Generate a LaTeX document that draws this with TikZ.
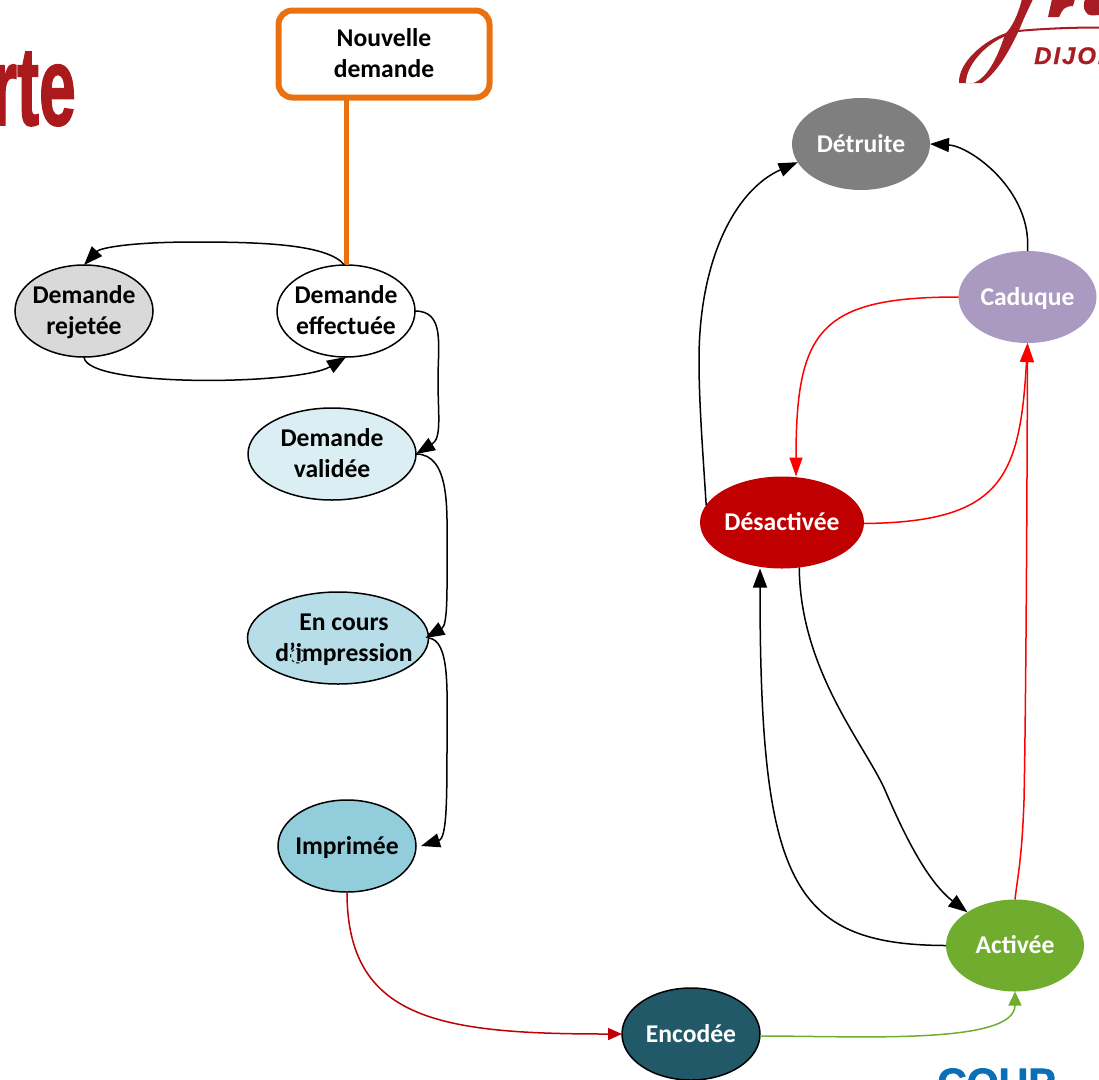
\documentclass[tikz,border=0pt]{standalone}
\usepackage{fontspec}
\setmainfont{Carlito}
\newfontfamily\helv{Liberation Sans}
\newfontfamily\helvheavy[FakeBold=1.6]{Liberation Sans Bold}
\newfontfamily\helvit[FakeBold=0.6,LetterSpace=8]{Liberation Sans Bold Italic}
\newfontfamily\dejavu{DejaVu Sans}
\usetikzlibrary{shapes.geometric,arrows.meta}
\definecolor{cOrange}{HTML}{E97110}
\definecolor{cGrey}{HTML}{D9D9D9}
\definecolor{cVal}{HTML}{DAEEF3}
\definecolor{cCours}{HTML}{B7DDE8}
\definecolor{cImp}{HTML}{92CDDC}
\definecolor{cEnc}{HTML}{215968}
\definecolor{cAct}{HTML}{70AD2E}
\definecolor{cDes}{HTML}{C00000}
\definecolor{cCad}{HTML}{AA99C1}
\definecolor{cDet}{HTML}{7F7F7F}
\definecolor{cLogo}{HTML}{A81C24}
\definecolor{cTitle}{HTML}{AA1A1C}
\definecolor{cBlue}{HTML}{0B6FB5}
\newcommand{\lblp}[3]{\vbox to 0pt{\kern#2\vss\hbox to 0pt{\hss\kern#1\begin{tabular}{@{}c@{}}#3\end{tabular}\hss}\vss}}
\newcommand{\lbl}[1]{\lblp{0pt}{4pt}{#1}}
\tikzset{
  stateA/.style={ellipse,draw=black,line width=1.5pt,inner sep=0pt,outer sep=0pt,minimum width=138pt,minimum height=92pt,font=\fontsize{25.6}{31}\selectfont\bfseries,text=black},
  stateW/.style={stateA,text=white},
  link/.style={line width=1.5pt,draw=black,-{Triangle[length=19pt,width=14pt]}},
  redlink/.style={line width=1.5pt,draw=red,-{Triangle[length=19pt,width=13pt,fill=red]}},
}
\begin{document}
\begin{tikzpicture}[x=1pt,y=-1pt]
\useasboundingbox (0,0) rectangle (1099,1079);
\clip (0,0) rectangle (1099,1079);
% cropped slide furniture
\node[anchor=base east,inner sep=0pt,text=cTitle,font=\helvheavy\fontsize{112}{112}\selectfont] (title) at (76,125) {\scalebox{.59}[1]{rte}};
\fill[cLogo] (1022,-1) .. controls (1018,15) and (1012,27) .. (1006,33) .. controls (985,40) and (958,62) .. (959,83) -- (982,83) .. controls (1000,70) and (1012,45) .. (1020,28) .. controls (1025,15) and (1030,6) .. (1033,-1) -- cycle;
\fill[white] (966,83) .. controls (966,66) and (985,45) .. (1004,37) .. controls (998,55) and (988,78) .. (973,83) -- cycle;
\fill[cLogo] (1018,30) .. controls (1050,27) and (1080,26.5) .. (1099,26.5) -- (1099,28.5) .. controls (1075,28.5) and (1045,29.5) .. (1018,32) -- cycle;
\fill[cLogo] (1052,-1) -- (1048,17) -- (1059,17) -- (1062,11) .. controls (1065,7) and (1069,6) .. (1073,6) -- (1075,-1) -- cycle;
\fill[cLogo] (1085,-1) .. controls (1082,8) and (1085,15) .. (1092,15.5) -- (1099,15) -- (1099,-1) -- cycle;
\node[anchor=base west,inner sep=0pt,text=cLogo,font=\helvit\fontsize{24}{24}\selectfont] (dijon) at (1034,64) {DIJON};
\node[anchor=base west,inner sep=0pt,text=cBlue,font=\helvheavy\fontsize{41}{41}\selectfont] (coup) at (937,1097) {COUP};
% states
\node[draw=cOrange,line width=6pt,rounded corners=14pt,minimum width=211pt,minimum height=87pt,inner sep=0pt,outer sep=0pt,font=\fontsize{25.6}{31}\selectfont\bfseries] (new) at (384,54) {\lbl{Nouvelle\\demande}};
\node[stateA,fill=white] (eff) at (346,311) {\lbl{Demande\\effectuée}};
\node[stateA,fill=cGrey] (rej) at (84,311) {\lbl{Demande\\rejetée}};
\node[stateA,fill=cVal,minimum width=168pt] (val) at (332,454) {\lbl{Demande\\validée}};
\node[stateA,fill=cCours,minimum width=181pt] (cours) at (338,638) {\lblp{12pt}{4pt}{En cours\\d\rlap{\dejavu\fontsize{20}{20}\selectfont\mdseries ◌}’impression}};
\node[stateA,fill=cImp] (imp) at (347,846) {\lbl{Imprimée}};
\node[stateW,fill=cEnc] (enc) at (691,1034) {\lbl{Encodée}};
\node[stateW,draw=none,fill=cAct] (act) at (1015,945.5) {\lbl{Activée}};
\node[stateW,draw=none,fill=cDes,minimum width=164pt] (des) at (782,522.5) {\lbl{Désactivée}};
\node[stateW,draw=none,fill=cCad] (cad) at (1027.5,297) {\lbl{Caduque}};
\node[stateW,draw=none,fill=cDet] (det) at (861,144) {\lbl{Détruite}};
% connectors
\draw[cOrange,line width=5pt] (new.south -| eff.north) -- (eff.north);
\draw[link] (eff.92) .. controls (328,244) and (260,242) .. (195,242) .. controls (130,242) and (100,248) .. (rej.north);
\draw[link] (rej.south) .. controls (86,388) and (300,385) .. (eff.south);
\draw[link] (eff.east) .. controls (445,311) and (438,345) .. (438,380) .. controls (438,415) and (442,438) .. (val.east);
\draw[link] (val.east) .. controls (450,454) and (447,510) .. (447,545) .. controls (447,590) and (448,625) .. ([xshift=-3pt]cours.east);
\draw[link] (cours.east) .. controls (450,640) and (447,690) .. (447,735) .. controls (447,800) and (447,838) .. ([xshift=5pt]imp.east);
\draw[link,draw=cDes,-{Triangle[length=14pt,width=12pt,fill=cDes]}] (imp.south) .. controls (347,1020) and (440,1034) .. (enc.west);
\draw[line width=1.5pt,draw=cAct,-{Triangle[length=14pt,width=13pt,fill=cAct]}] (enc.east) ++(0,2) .. controls (860,1036) and (1015,1045) .. (act.south);
\draw[link] (des.167) .. controls (702,440) and (699,400) .. (699,360) .. controls (699,260) and (735,190) .. (det.196);
\draw[link] (cad.north) .. controls (1032,190) and (970,146) .. (det.east);
\draw[redlink] (cad.west) .. controls (820,297) and (796,330) .. (des.north -| 796,477);
\draw[redlink] (des.east) ++(0,1) .. controls (1000,522) and (1020,480) .. (cad.south);
\draw[redlink] (act.north) .. controls (1017,880) and (1022,860) .. (1024,800) .. controls (1026,700) and (1027,500) .. (cad.south);
\draw[link] (des.291) .. controls (800,670) and (865,745) .. (885,790) .. controls (900,825) and (925,880) .. (act.145);
\draw[link] (act.west) .. controls (790,945) and (760,880) .. ([xshift=-22pt]des.south);
\end{tikzpicture}
\end{document}
